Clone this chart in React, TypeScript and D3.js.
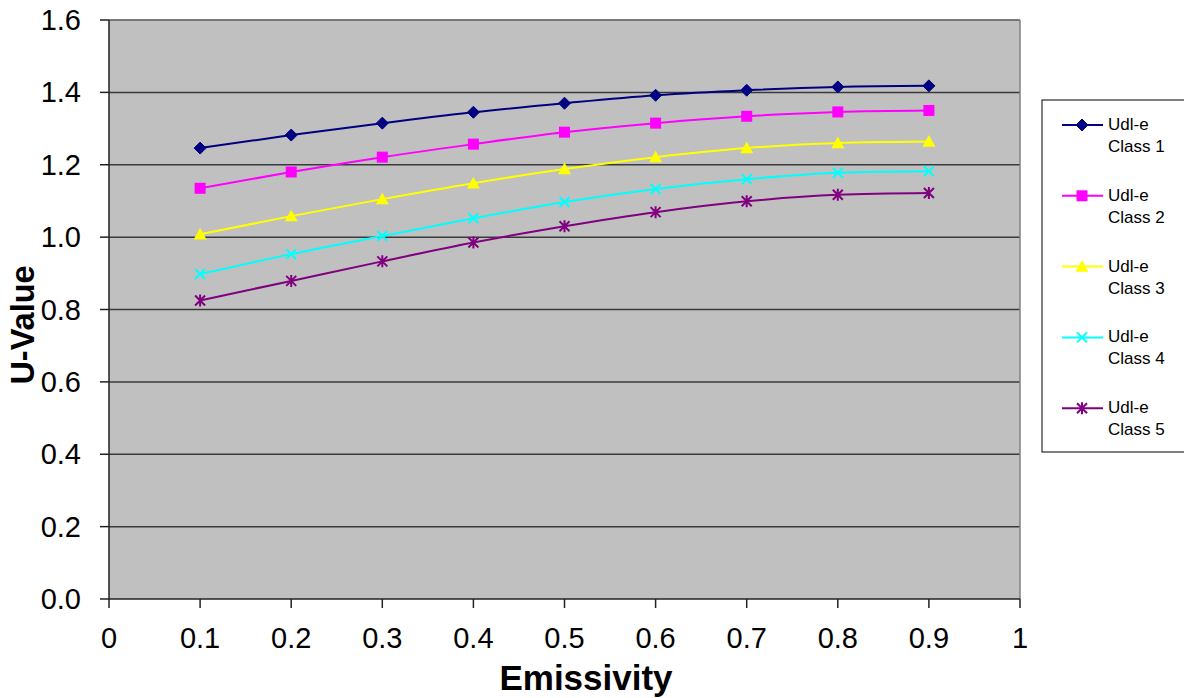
import React from "react";
import * as d3 from "d3";

const emissivity = [0.1, 0.2, 0.3, 0.4, 0.5, 0.6, 0.7, 0.8, 0.9];
const class1 = [1.246, 1.282, 1.315, 1.345, 1.37, 1.392, 1.406, 1.415, 1.418];
const class2 = [1.135, 1.18, 1.221, 1.257, 1.29, 1.315, 1.334, 1.346, 1.35];
const class3 = [1.008, 1.058, 1.105, 1.149, 1.188, 1.221, 1.246, 1.26, 1.264];
const class4 = [0.898, 0.953, 1.003, 1.052, 1.097, 1.133, 1.16, 1.178, 1.182];
const class5 = [0.825, 0.879, 0.933, 0.985, 1.03, 1.069, 1.099, 1.117, 1.122];
const seriesNames = ["Class 1", "Class 2", "Class 3", "Class 4", "Class 5"];
const seriesColors = ["#000080", "#FF00FF", "#FFFF00", "#00FFFF", "#800080"];
const seriesMarkers = ["diamond", "square", "triangle", "x", "star"];
const xTicks = [0, 0.1, 0.2, 0.3, 0.4, 0.5, 0.6, 0.7, 0.8, 0.9, 1];
const yTicks = [0, 0.2, 0.4, 0.6, 0.8, 1.0, 1.2, 1.4, 1.6];

const allSeries = [class1, class2, class3, class4, class5];

const L = 109, R = 1020, T = 20, B = 599;
const FONT = "Liberation Sans, Arial, sans-serif";

function Marker({ type, x, y, color }: { type: string; x: number; y: number; color: string }) {
  if (type === "diamond") {
    const s = 6;
    return <path d={`M${x},${y - s}L${x + s},${y}L${x},${y + s}L${x - s},${y}Z`} fill={color} stroke={color} strokeWidth={1} />;
  }
  if (type === "square") {
    const s = 5.5;
    return <rect x={x - s} y={y - s} width={2 * s} height={2 * s} fill={color} />;
  }
  if (type === "triangle") {
    const s = 6.5;
    return <path d={`M${x},${y - s}L${x + s},${y + s * 0.8}L${x - s},${y + s * 0.8}Z`} fill={color} />;
  }
  if (type === "x") {
    const s = 5;
    return <path d={`M${x - s},${y - s}L${x + s},${y + s}M${x - s},${y + s}L${x + s},${y - s}`} stroke={color} strokeWidth={2} />;
  }
  const s = 5;
  return (
    <path
      d={`M${x - s},${y - s}L${x + s},${y + s}M${x - s},${y + s}L${x + s},${y - s}M${x},${y - s - 1}L${x},${y + s + 1}`}
      stroke={color}
      strokeWidth={2}
    />
  );
}

export default function App() {
  const x = d3.scaleLinear().domain([0, 1]).range([L, R]);
  const y = d3.scaleLinear().domain([0, 1.6]).range([B, T]);
  const line = d3
    .line<number>()
    .x((_, i) => x(emissivity[i]))
    .y((d) => y(d))
    .curve(d3.curveMonotoneX);

  const legendX = 1042, legendY = 100, legendStep = 70.8;

  return (
    <svg width={1184} height={698} style={{ position: "absolute", left: 0, top: 0 }} fontFamily={FONT}>
      <rect x={0} y={0} width={1184} height={698} fill="#fff" />
      <rect x={L} y={T} width={R - L} height={B - T} fill="#C0C0C0" />
      {yTicks.slice(1).map((t) => (
        <line key={t} x1={L} x2={R} y1={y(t)} y2={y(t)} stroke="#3a3a3a" strokeWidth={1.5} />
      ))}
      <line x1={R} x2={R} y1={T} y2={B} stroke="#808080" strokeWidth={1.5} />
      <line x1={L} x2={R} y1={T} y2={T} stroke="#808080" strokeWidth={1.5} />
      <line x1={L} x2={L} y1={T} y2={B} stroke="#222" strokeWidth={1.5} />
      <line x1={L} x2={R} y1={B} y2={B} stroke="#222" strokeWidth={1.5} />
      {yTicks.map((t) => (
        <g key={t}>
          <line x1={L - 9} x2={L} y1={y(t)} y2={y(t)} stroke="#222" strokeWidth={1.5} />
          <text x={81} y={y(t) + 10} textAnchor="end" fontSize={29} fill="#000">
            {t.toFixed(1)}
          </text>
        </g>
      ))}
      {xTicks.map((t) => (
        <g key={t}>
          <line x1={x(t)} x2={x(t)} y1={B} y2={B + 9} stroke="#222" strokeWidth={1.5} />
          <text x={x(t)} y={648} textAnchor="middle" fontSize={29} fill="#000">
            {String(t)}
          </text>
        </g>
      ))}
      <text x={586} y={690} textAnchor="middle" fontSize={35} fontWeight="bold" fill="#000">
        Emissivity
      </text>
      <text transform="translate(34,325) rotate(-90)" textAnchor="middle" fontSize={32.5} fontWeight="bold" fill="#000">
        U-Value
      </text>
      {allSeries.map((s, si) => (
        <g key={si}>
          <path d={line(s) || ""} fill="none" stroke={seriesColors[si]} strokeWidth={2} />
          {s.map((v, i) => (
            <Marker key={i} type={seriesMarkers[si]} x={x(emissivity[i])} y={y(v)} color={seriesColors[si]} />
          ))}
        </g>
      ))}
      <rect x={legendX} y={legendY} width={150} height={352} fill="#fff" stroke="#000" strokeWidth={1} />
      {seriesNames.map((n, i) => {
        const cy = 125 + i * legendStep;
        return (
          <g key={n}>
            <line x1={1062} x2={1103} y1={cy} y2={cy} stroke={seriesColors[i]} strokeWidth={2} />
            <Marker type={seriesMarkers[i]} x={1082} y={cy} color={seriesColors[i]} />
            <text x={1108} y={cy + 5} fontSize={17} fill="#000">
              Udl-e
            </text>
            <text x={1108} y={cy + 27} fontSize={17} fill="#000">
              {n}
            </text>
          </g>
        );
      })}
    </svg>
  );
}
